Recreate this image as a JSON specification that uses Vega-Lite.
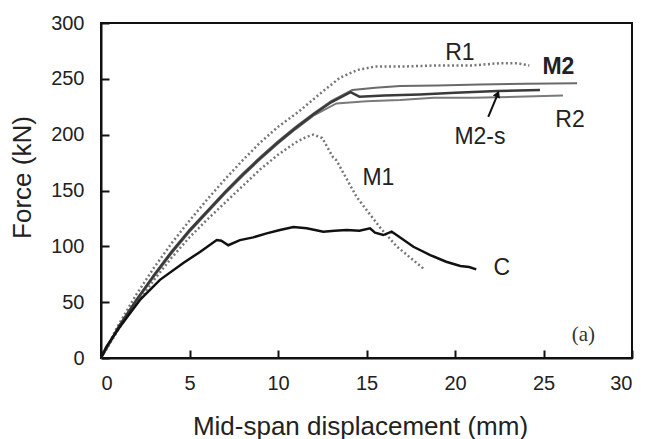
{
  "$schema": "https://vega.github.io/schema/vega-lite/v6.json",
  "width": 531,
  "height": 335,
  "autosize": {"type": "none"},
  "padding": {"left": 101, "top": 23, "right": 17, "bottom": 81},
  "background": "white",
  "config": {
    "view": {"stroke": "#111", "strokeWidth": 2},
    "font": "Liberation Sans",
    "axis": {
      "grid": false,
      "domainColor": "#111",
      "domainWidth": 2,
      "tickColor": "#111",
      "tickWidth": 2,
      "tickSize": -8,
      "labelFont": "Liberation Sans",
      "labelFontSize": 20,
      "labelColor": "#222",
      "titleFont": "Liberation Sans",
      "titleFontSize": 26,
      "titleFontWeight": "normal",
      "titleColor": "#222"
    }
  },
  "datasets": {
    "curves": [
      {"series": "M1", "d": 0, "F": 0}, {"series": "M1", "d": 1, "F": 26}, {"series": "M1", "d": 2, "F": 49},
      {"series": "M1", "d": 3, "F": 70}, {"series": "M1", "d": 4, "F": 90}, {"series": "M1", "d": 5, "F": 108},
      {"series": "M1", "d": 6, "F": 124}, {"series": "M1", "d": 7, "F": 139}, {"series": "M1", "d": 8, "F": 154},
      {"series": "M1", "d": 9, "F": 169}, {"series": "M1", "d": 10, "F": 182}, {"series": "M1", "d": 11, "F": 193},
      {"series": "M1", "d": 11.6, "F": 198}, {"series": "M1", "d": 12, "F": 200}, {"series": "M1", "d": 12.5, "F": 197},
      {"series": "M1", "d": 13.1, "F": 180}, {"series": "M1", "d": 13.3, "F": 177}, {"series": "M1", "d": 14.45, "F": 144},
      {"series": "M1", "d": 15.76, "F": 117}, {"series": "M1", "d": 16.7, "F": 100}, {"series": "M1", "d": 18.3, "F": 79},

      {"series": "R1", "d": 0, "F": 0}, {"series": "R1", "d": 1, "F": 30}, {"series": "R1", "d": 2, "F": 57},
      {"series": "R1", "d": 3, "F": 81}, {"series": "R1", "d": 4, "F": 103}, {"series": "R1", "d": 5, "F": 123},
      {"series": "R1", "d": 6, "F": 142}, {"series": "R1", "d": 7, "F": 160}, {"series": "R1", "d": 8, "F": 177},
      {"series": "R1", "d": 9, "F": 193}, {"series": "R1", "d": 10, "F": 207}, {"series": "R1", "d": 11.2, "F": 221},
      {"series": "R1", "d": 12.4, "F": 237}, {"series": "R1", "d": 13.5, "F": 251}, {"series": "R1", "d": 14.5, "F": 258},
      {"series": "R1", "d": 15.5, "F": 261}, {"series": "R1", "d": 17, "F": 261}, {"series": "R1", "d": 19, "F": 262},
      {"series": "R1", "d": 21, "F": 262}, {"series": "R1", "d": 22.5, "F": 264}, {"series": "R1", "d": 23.5, "F": 264},
      {"series": "R1", "d": 24.2, "F": 262},

      {"series": "R2", "d": 0, "F": 0}, {"series": "R2", "d": 1, "F": 27}, {"series": "R2", "d": 2, "F": 51},
      {"series": "R2", "d": 3, "F": 73}, {"series": "R2", "d": 4, "F": 94}, {"series": "R2", "d": 5, "F": 113},
      {"series": "R2", "d": 6, "F": 130}, {"series": "R2", "d": 7, "F": 147}, {"series": "R2", "d": 8, "F": 163},
      {"series": "R2", "d": 9, "F": 178}, {"series": "R2", "d": 10, "F": 192}, {"series": "R2", "d": 11, "F": 205},
      {"series": "R2", "d": 12, "F": 217}, {"series": "R2", "d": 13.3, "F": 228}, {"series": "R2", "d": 15, "F": 230},
      {"series": "R2", "d": 16.9, "F": 231}, {"series": "R2", "d": 18.8, "F": 233}, {"series": "R2", "d": 21, "F": 233},
      {"series": "R2", "d": 23.5, "F": 234}, {"series": "R2", "d": 26.1, "F": 235},

      {"series": "M2", "d": 0, "F": 0}, {"series": "M2", "d": 1, "F": 28}, {"series": "M2", "d": 2, "F": 52},
      {"series": "M2", "d": 3, "F": 75}, {"series": "M2", "d": 4, "F": 96}, {"series": "M2", "d": 5, "F": 115},
      {"series": "M2", "d": 6, "F": 132}, {"series": "M2", "d": 7, "F": 149}, {"series": "M2", "d": 8, "F": 165},
      {"series": "M2", "d": 9, "F": 180}, {"series": "M2", "d": 10, "F": 194}, {"series": "M2", "d": 11, "F": 207},
      {"series": "M2", "d": 12, "F": 219}, {"series": "M2", "d": 13, "F": 230}, {"series": "M2", "d": 14.2, "F": 240},
      {"series": "M2", "d": 15.5, "F": 242}, {"series": "M2", "d": 16.9, "F": 243.5}, {"series": "M2", "d": 19, "F": 244},
      {"series": "M2", "d": 21.4, "F": 245}, {"series": "M2", "d": 24, "F": 245.5}, {"series": "M2", "d": 26.9, "F": 246},

      {"series": "M2-s", "d": 0, "F": 0}, {"series": "M2-s", "d": 1, "F": 28}, {"series": "M2-s", "d": 2, "F": 52},
      {"series": "M2-s", "d": 3, "F": 74}, {"series": "M2-s", "d": 4, "F": 95}, {"series": "M2-s", "d": 5, "F": 114},
      {"series": "M2-s", "d": 6, "F": 131}, {"series": "M2-s", "d": 7, "F": 148}, {"series": "M2-s", "d": 8, "F": 164},
      {"series": "M2-s", "d": 9, "F": 179}, {"series": "M2-s", "d": 10, "F": 193}, {"series": "M2-s", "d": 11, "F": 206},
      {"series": "M2-s", "d": 12, "F": 218}, {"series": "M2-s", "d": 13, "F": 229}, {"series": "M2-s", "d": 14.1, "F": 238},
      {"series": "M2-s", "d": 14.6, "F": 234}, {"series": "M2-s", "d": 16, "F": 235}, {"series": "M2-s", "d": 18, "F": 236},
      {"series": "M2-s", "d": 20, "F": 237.5}, {"series": "M2-s", "d": 22.4, "F": 239}, {"series": "M2-s", "d": 24.8, "F": 240},

      {"series": "C", "d": 0, "F": 0}, {"series": "C", "d": 0.3, "F": 10}, {"series": "C", "d": 1.07, "F": 28},
      {"series": "C", "d": 2.2, "F": 52}, {"series": "C", "d": 3.33, "F": 70}, {"series": "C", "d": 4.65, "F": 85},
      {"series": "C", "d": 5.59, "F": 95}, {"series": "C", "d": 6.54, "F": 105.6}, {"series": "C", "d": 6.8, "F": 105},
      {"series": "C", "d": 7.19, "F": 101}, {"series": "C", "d": 7.85, "F": 105.6}, {"series": "C", "d": 8.6, "F": 108},
      {"series": "C", "d": 9.36, "F": 111.6}, {"series": "C", "d": 10.11, "F": 114.6}, {"series": "C", "d": 10.87, "F": 117.3},
      {"series": "C", "d": 11.62, "F": 116.1}, {"series": "C", "d": 12.56, "F": 113.1}, {"series": "C", "d": 13.2, "F": 114},
      {"series": "C", "d": 13.88, "F": 114.6}, {"series": "C", "d": 14.6, "F": 114}, {"series": "C", "d": 15.2, "F": 116.1},
      {"series": "C", "d": 15.48, "F": 112.2}, {"series": "C", "d": 15.95, "F": 110.1}, {"series": "C", "d": 16.42, "F": 113.1},
      {"series": "C", "d": 16.7, "F": 110.1}, {"series": "C", "d": 17.65, "F": 99.6}, {"series": "C", "d": 18.6, "F": 92.2},
      {"series": "C", "d": 19.5, "F": 86.2}, {"series": "C", "d": 20.3, "F": 82.4}, {"series": "C", "d": 20.8, "F": 81.5},
      {"series": "C", "d": 21.2, "F": 79.4}
    ],
    "labels": [
      {"label": "R1", "d": 20.28, "F": 272.8},
      {"label": "M2-s", "d": 21.41, "F": 198},
      {"label": "R2", "d": 26.5, "F": 213},
      {"label": "M1", "d": 15.67, "F": 160.9},
      {"label": "C", "d": 22.64, "F": 80.3}
    ],
    "boldLabels": [
      {"label": "M2", "d": 25.84, "F": 260.8}
    ],
    "panel": [
      {"label": "(a)", "d": 27.25, "F": 20.6}
    ],
    "arrow": [
      {"d": 21.88, "F": 216, "d2": 22.38, "F2": 235}
    ],
    "arrowHead": [
      {"d": 22.41, "F": 236.5}
    ]
  },
  "layer": [
    {
      "data": {"name": "curves"},
      "transform": [{"filter": "datum.series === 'M1' || datum.series === 'R1'"}],
      "mark": {"type": "line", "color": "#777", "strokeWidth": 2.5, "strokeDash": [2, 2.5], "clip": true},
      "encoding": {
        "x": {"field": "d", "type": "quantitative", "scale": {"domain": [0, 30], "nice": false},
              "axis": {"values": [0, 5, 10, 15, 20, 25, 30], "title": "Mid-span displacement (mm)", "labelPadding": 23, "titleX": 259, "titleY": 68, "titleBaseline": "middle"}},
        "y": {"field": "F", "type": "quantitative", "scale": {"domain": [0, 300], "nice": false},
              "axis": {"values": [0, 50, 100, 150, 200, 250, 300], "title": "Force (kN)", "labelPadding": 25, "titleX": -79, "titleY": 154, "titleBaseline": "middle"}},
        "detail": {"field": "series", "type": "nominal"}
      }
    },
    {
      "data": {"name": "curves"},
      "transform": [{"filter": "datum.series === 'R2'"}],
      "mark": {"type": "line", "color": "#7a7a7a", "strokeWidth": 2},
      "encoding": {"x": {"field": "d", "type": "quantitative"}, "y": {"field": "F", "type": "quantitative"}}
    },
    {
      "data": {"name": "curves"},
      "transform": [{"filter": "datum.series === 'M2'"}],
      "mark": {"type": "line", "color": "#6a6a6a", "strokeWidth": 2},
      "encoding": {"x": {"field": "d", "type": "quantitative"}, "y": {"field": "F", "type": "quantitative"}}
    },
    {
      "data": {"name": "curves"},
      "transform": [{"filter": "datum.series === 'M2-s'"}],
      "mark": {"type": "line", "color": "#3a3a3a", "strokeWidth": 2.5},
      "encoding": {"x": {"field": "d", "type": "quantitative"}, "y": {"field": "F", "type": "quantitative"}}
    },
    {
      "data": {"name": "curves"},
      "transform": [{"filter": "datum.series === 'C'"}],
      "mark": {"type": "line", "color": "#111", "strokeWidth": 2.5},
      "encoding": {"x": {"field": "d", "type": "quantitative"}, "y": {"field": "F", "type": "quantitative"}}
    },
    {
      "data": {"name": "arrow"},
      "mark": {"type": "rule", "color": "#111", "strokeWidth": 2},
      "encoding": {
        "x": {"field": "d", "type": "quantitative"}, "y": {"field": "F", "type": "quantitative"},
        "x2": {"field": "d2"}, "y2": {"field": "F2"}
      }
    },
    {
      "data": {"name": "arrowHead"},
      "mark": {"type": "point", "shape": "triangle-up", "filled": true, "color": "#111", "size": 60, "angle": 23, "opacity": 1},
      "encoding": {"x": {"field": "d", "type": "quantitative"}, "y": {"field": "F", "type": "quantitative"}}
    },
    {
      "data": {"name": "labels"},
      "mark": {"type": "text", "font": "Liberation Sans", "fontSize": 23, "color": "#222", "align": "center", "baseline": "middle"},
      "encoding": {"x": {"field": "d", "type": "quantitative"}, "y": {"field": "F", "type": "quantitative"}, "text": {"field": "label"}}
    },
    {
      "data": {"name": "boldLabels"},
      "mark": {"type": "text", "font": "Liberation Sans", "fontSize": 23, "fontWeight": "bold", "color": "#222", "align": "center", "baseline": "middle"},
      "encoding": {"x": {"field": "d", "type": "quantitative"}, "y": {"field": "F", "type": "quantitative"}, "text": {"field": "label"}}
    },
    {
      "data": {"name": "panel"},
      "mark": {"type": "text", "font": "Liberation Serif", "fontSize": 21, "color": "#333", "align": "center", "baseline": "middle"},
      "encoding": {"x": {"field": "d", "type": "quantitative"}, "y": {"field": "F", "type": "quantitative"}, "text": {"field": "label"}}
    }
  ]
}
